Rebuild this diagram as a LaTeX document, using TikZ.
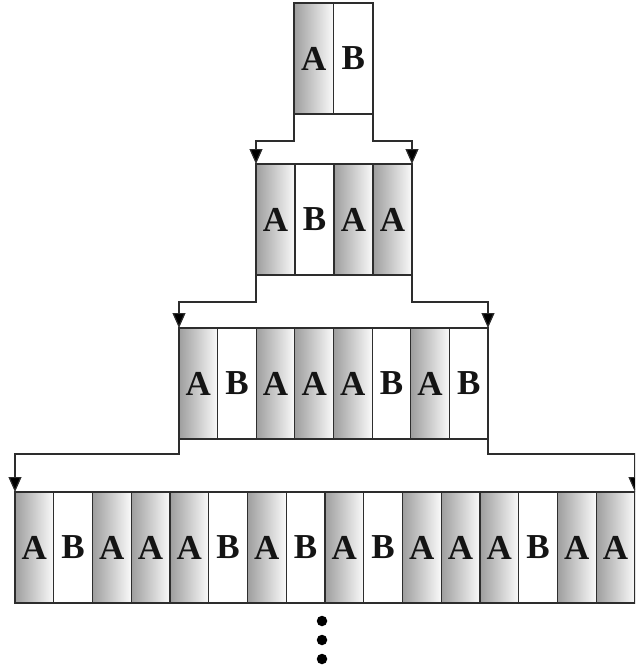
\documentclass[tikz,border=0pt]{standalone}
\usepackage{fontspec}
\setmainfont{Liberation Serif}
\usetikzlibrary{arrows.meta}
\definecolor{linec}{RGB}{45,45,45}
\definecolor{gradleft}{RGB}{158,158,158}
\definecolor{gradright}{RGB}{250,250,250}
\pgfdeclarehorizontalshading{cellgrad}{100bp}{color(0bp)=(gradleft); color(25bp)=(gradleft); color(75bp)=(gradright); color(100bp)=(gradright)}
\begin{document}
\begin{tikzpicture}[x=1pt,y=-1pt,
  cellbox/.style={draw=linec, line width=1.2pt, minimum width=#1, minimum height=111pt,
    inner sep=0pt, outer sep=0pt, anchor=north west,
    font=\fontsize{35}{35}\selectfont\bfseries, text=black!92},
  Acell/.style={cellbox=#1, shade, shading=cellgrad},
  Bcell/.style={cellbox=#1, fill=white},
  conn/.style={draw=linec, line width=1.2pt, -{Triangle[width=13pt,length=15pt,fill=black]}},
  dotmark/.style={circle, fill=black, draw=none, minimum size=10.5pt, inner sep=0pt}]
\useasboundingbox (0,0) rectangle (635,672);
\clip (0,0) rectangle (635,672);
% row 1
\foreach \L [count=\i] in {A,B}
  \node[\L cell=39.5pt] (r1c\i) at ({294+(\i-1)*39.5},3) {\raisebox{-4pt}{\L}};
% row 2
\foreach \L [count=\i] in {A,B,A,A}
  \node[\L cell=39pt] (r2c\i) at ({256+(\i-1)*39},164) {\raisebox{-4pt}{\L}};
% row 3
\foreach \L [count=\i] in {A,B,A,A,A,B,A,B}
  \node[\L cell=38.625pt] (r3c\i) at ({179+(\i-1)*38.625},328) {\raisebox{-4pt}{\L}};
% row 4
\foreach \L [count=\i] in {A,B,A,A,A,B,A,B,A,B,A,A,A,B,A,A}
  \node[\L cell=38.75pt] (r4c\i) at ({15+(\i-1)*38.75},492) {\raisebox{-4pt}{\L}};
% connectors
\draw[conn] (r1c1.south west) -- ++(0,27) -| (r2c1.north west);
\draw[conn] (r1c2.south east) -- ++(0,27) -| (r2c4.north east);
\draw[conn] (r2c1.south west) -- ++(0,27) -| (r3c1.north west);
\draw[conn] (r2c4.south east) -- ++(0,27) -| (r3c8.north east);
\draw[conn] (r3c1.south west) -- ++(0,15) -| (r4c1.north west);
\draw[conn] (r3c8.south east) -- ++(0,15) -| (r4c16.north east);
% dots
\node[dotmark] (d1) at (322,621) {};
\node[dotmark] (d2) at (322,640) {};
\node[dotmark] (d3) at (322,659) {};
\end{tikzpicture}
\end{document}
